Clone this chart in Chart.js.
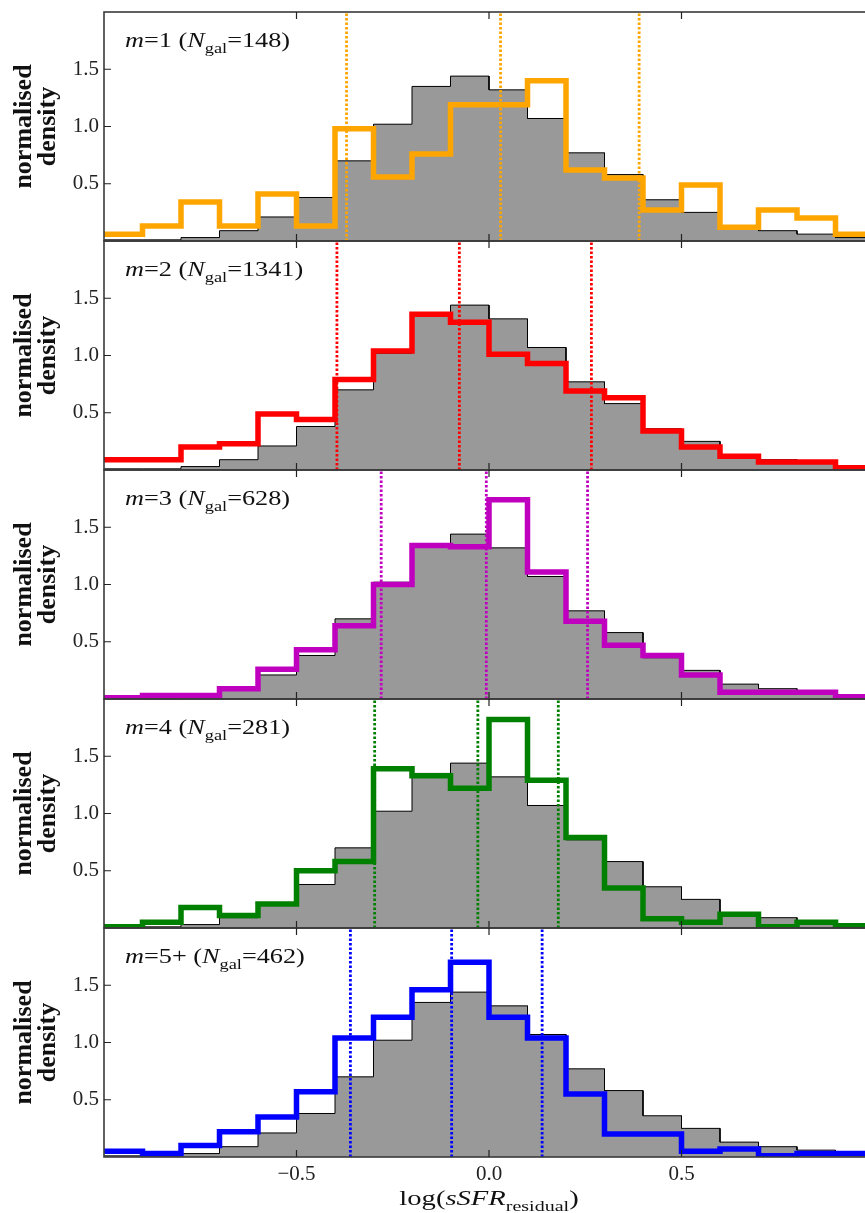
<!DOCTYPE html>
<html>
<head>
<meta charset="utf-8">
<script src="https://cdn.jsdelivr.net/npm/chart.js@4.4.0/dist/chart.umd.min.js"></script>
<style>
html, body { margin: 0; padding: 0; background: #fff; }
#fig { position: relative; width: 865px; height: 1213px; overflow: hidden; }
#fig canvas { position: absolute; left: 0; }
</style>
</head>
<body>
<div id="fig"></div>
<script>
// bin edges of log(sSFR_residual), width 0.1
const binEdges = [-1.0, -0.9, -0.8, -0.7, -0.6, -0.5, -0.4, -0.3, -0.2, -0.1, 0.0,
                  0.1, 0.2, 0.3, 0.4, 0.5, 0.6, 0.7, 0.8, 0.9, 1.0];

// grey histogram (whole sample), same in every panel
const allGalaxies = [0.01, 0.01, 0.03, 0.09, 0.21, 0.38, 0.70, 1.02, 1.35, 1.44,
                     1.32, 1.07, 0.77, 0.58, 0.36, 0.25, 0.13, 0.09, 0.06, 0.03];

const m1 = [0.06, 0.13, 0.34, 0.13, 0.41, 0.13, 0.98, 0.56, 0.76, 1.19,
            1.19, 1.40, 0.62, 0.55, 0.27, 0.49, 0.12, 0.27, 0.20, 0.06];
const m2 = [0.09, 0.09, 0.20, 0.23, 0.49, 0.44, 0.79, 1.04, 1.36, 1.29,
            1.01, 0.93, 0.69, 0.63, 0.34, 0.20, 0.12, 0.07, 0.07, 0.02];
const m3 = [0.01, 0.03, 0.03, 0.09, 0.26, 0.43, 0.64, 1.00, 1.34, 1.33,
            1.74, 1.11, 0.68, 0.47, 0.38, 0.21, 0.06, 0.06, 0.06, 0.02];
const m4 = [0.01, 0.05, 0.18, 0.11, 0.21, 0.50, 0.58, 1.39, 1.33, 1.22,
            1.82, 1.29, 0.79, 0.35, 0.08, 0.05, 0.12, 0.01, 0.05, 0.02];
const m5 = [0.05, 0.03, 0.10, 0.22, 0.35, 0.57, 1.04, 1.22, 1.46, 1.70,
            1.22, 1.04, 0.55, 0.20, 0.20, 0.05, 0.07, 0.01, 0.03, 0.03];

// 16th / 50th / 84th percentiles (dotted lines)
const p1 = [-0.37, 0.03, 0.39];
const p2 = [-0.395, -0.077, 0.266];
const p3 = [-0.28, -0.007, 0.256];
const p4 = [-0.297, -0.029, 0.18];
const p5 = [-0.36, -0.097, 0.138];

const panelNames = ["1", "2", "3", "4", "5+"];
const panelCounts = [148, 1341, 628, 281, 462];
const panelSeries = [m1, m2, m3, m4, m5];
const panelPercentiles = [p1, p2, p3, p4, p5];
const panelColors = ["#ffa500", "#ff0000", "#bf00bf", "#008000", "#0000ff"];

const yTicks = [0.5, 1.0, 1.5];
const xTicks = [-0.5, 0.0, 0.5];

const SERIF = "'Liberation Serif', 'DejaVu Serif', serif";
const panelTop = 12;
const panelH = 229;

function steps(values) {
    const pts = [];
    values.forEach((v, i) => {
        pts.push({ x: binEdges[i], y: v });
        pts.push({ x: binEdges[i + 1], y: v });
    });
    return pts;
}

// draws a run of text pieces (italic / subscript), stretched a bit sideways
function drawRich(ctx, parts, x, y, size, sx, center) {
    ctx.save();
    ctx.textBaseline = "alphabetic";
    ctx.textAlign = "left";
    const fontOf = (p) => (p.it ? "italic " : "") + (p.sub ? size * 0.7 : size) + "px " + SERIF;
    let w = 0;
    parts.forEach((p) => { ctx.font = fontOf(p); w += ctx.measureText(p.t).width; });
    ctx.translate(center ? x - (w * sx) / 2 : x, y);
    ctx.scale(sx, 1);
    ctx.fillStyle = "#111";
    let cx = 0;
    parts.forEach((p) => {
        ctx.font = fontOf(p);
        ctx.fillText(p.t, cx, p.sub ? size * 0.28 : 0);
        cx += ctx.measureText(p.t).width;
    });
    ctx.restore();
}

const framePlugin = {
    id: "frame",
    afterDraw(chart) {
        const { ctx, chartArea: a, scales } = chart;
        ctx.save();
        ctx.strokeStyle = "#3a3a3a";
        ctx.lineWidth = 1.6;
        ctx.strokeRect(a.left, a.top, a.right - a.left, a.bottom - a.top);
        ctx.lineWidth = 1.2;
        ctx.strokeStyle = "#222";
        ctx.beginPath();
        yTicks.forEach((v) => {
            const py = scales.y.getPixelForValue(v);
            ctx.moveTo(a.left, py); ctx.lineTo(a.left + 7, py);
            ctx.moveTo(a.right, py); ctx.lineTo(a.right - 7, py);
        });
        xTicks.forEach((v) => {
            const px = scales.x.getPixelForValue(v);
            ctx.moveTo(px, a.top); ctx.lineTo(px, a.top + 7);
            ctx.moveTo(px, a.bottom); ctx.lineTo(px, a.bottom - 7);
        });
        ctx.stroke();
        ctx.restore();

        const i = chart.options.plugins.frame.panel;
        drawRich(ctx, [
            { t: "m", it: true }, { t: "=" + panelNames[i] + " (" },
            { t: "N", it: true }, { t: "gal", sub: true }, { t: "=" + panelCounts[i] + ")" },
        ], a.left + 21, a.top + 35, 21, 1.25, false);

        if (i === panelNames.length - 1) {
            drawRich(ctx, [
                { t: "log(" }, { t: "sSFR", it: true }, { t: "residual", sub: true }, { t: ")" },
            ], (a.left + a.right) / 2, a.bottom + 48, 22, 1.3, true);
        }
    },
};

const fig = document.getElementById("fig");

panelSeries.forEach((series, i) => {
    const last = i === panelSeries.length - 1;
    const canvas = document.createElement("canvas");
    const h = last ? 1213 - (panelTop + i * panelH - 2) : panelH + 4;
    canvas.width = 880;
    canvas.height = h;
    canvas.style.top = panelTop + i * panelH - 2 + "px";
    canvas.style.width = "880px";
    canvas.style.height = h + "px";
    fig.appendChild(canvas);

    const color = panelColors[i];
    const dotted = panelPercentiles[i].map((p) => ({
        data: [{ x: p, y: 0 }, { x: p, y: 2 }],
        borderColor: color,
        borderWidth: 2.8,
        borderDash: [2.5, 2],
        pointRadius: 0,
        fill: false,
        order: 1,
    }));

    new Chart(canvas.getContext("2d"), {
        type: "line",
        data: {
            datasets: [
                {
                    data: steps(series),
                    borderColor: color,
                    borderWidth: 5.5,
                    borderJoinStyle: "miter",
                    pointRadius: 0,
                    fill: false,
                    order: 0,
                },
                ...dotted,
                {
                    data: steps(allGalaxies),
                    borderColor: "#000",
                    borderWidth: 1,
                    backgroundColor: "#999999",
                    pointRadius: 0,
                    fill: "origin",
                    order: 2,
                },
            ],
        },
        options: {
            responsive: false,
            animation: false,
            events: [],
            layout: { padding: { top: 2, bottom: last ? 0 : 2, left: 0, right: 6 } },
            scales: {
                x: {
                    type: "linear",
                    min: -1,
                    max: 1,
                    display: last,
                    grid: { display: false, drawTicks: false },
                    border: { display: false },
                    afterBuildTicks: (s) => { s.ticks = xTicks.map((v) => ({ value: v })); },
                    afterFit: (s) => {
                        s.height = last ? 56 : 0;
                        s.paddingLeft = 0;
                        s.paddingRight = 0;
                    },
                    ticks: {
                        padding: 5,
                        color: "#222",
                        font: { family: SERIF, size: 21 },
                        callback: (v) => (v < 0 ? "\u2212" : "") + Math.abs(v).toFixed(1),
                    },
                },
                y: {
                    min: 0,
                    max: 2,
                    grid: { display: false, drawTicks: false },
                    border: { display: false },
                    afterBuildTicks: (s) => { s.ticks = yTicks.map((v) => ({ value: v })); },
                    afterFit: (s) => {
                        s.width = 104;
                        s.paddingTop = 0;
                        s.paddingBottom = 0;
                    },
                    ticks: {
                        padding: 5,
                        color: "#222",
                        font: { family: SERIF, size: 21 },
                        callback: (v) => v.toFixed(1),
                    },
                    title: {
                        display: true,
                        text: ["normalised", "density"],
                        color: "#111",
                        font: { family: SERIF, size: 26, weight: "bold", lineHeight: 24 / 26 },
                        padding: { top: 12, bottom: 0 },
                    },
                },
            },
            plugins: {
                legend: { display: false },
                tooltip: { enabled: false },
                frame: { panel: i },
            },
        },
        plugins: [framePlugin],
    });
});
</script>
</body>
</html>
